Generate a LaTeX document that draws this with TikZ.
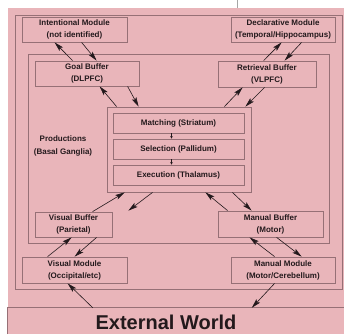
\documentclass[tikz,border=0pt]{standalone}
\usepackage{fontspec}
\setmainfont{Liberation Sans}
\usetikzlibrary{arrows.meta,calc}
\definecolor{pinkbg}{RGB}{233,181,186}
\definecolor{edgec}{RGB}{150,112,118}
\definecolor{ink}{RGB}{35,25,28}
\begin{document}
\begin{tikzpicture}[x=1pt,y=-1pt,
  frame/.style={draw=edgec, line width=0.8pt, inner sep=0pt},
  box/.style={draw=edgec, line width=0.8pt, fill=pinkbg, inner sep=0pt, align=center,
    font=\bfseries\fontsize{8}{12}\selectfont, text=ink},
  lbl/.style={inner sep=0pt, align=center, font=\bfseries\fontsize{8}{13}\selectfont, text=ink},
  arr/.style={draw=ink, line width=0.6pt, -{Stealth[length=9.5pt,width=5pt,inset=2pt]}},
  small/.style={draw=ink, line width=0.5pt, -{Stealth[length=2.5pt,width=2.5pt]}}]
\useasboundingbox (0,0) rectangle (344,334);
\fill[pinkbg] (8,8) rectangle (344,334);
\draw[black!35, line width=0.6pt] (237,0) -- (237,8);
% frames
\node[frame, minimum width=327pt, minimum height=274pt] (fa) at (178.5,152) {};
\node[frame, minimum width=301pt, minimum height=189pt] (fb) at (178.5,148.5) {};
% external world
\node[inner sep=0pt, minimum width=336pt, minimum height=26pt] (ext) at (176,321) {};
\draw[edgec, line width=0.8pt] (ext.south west) |- (ext.north east);
\node[inner sep=0pt, font=\bfseries\fontsize{20}{24}\selectfont, text=ink] (extl) at (166,322) {External World};
% modules and buffers
\node[box, minimum width=105pt, minimum height=25pt] (intent) at (74.5,29.5) {Intentional Module\\(not identified)};
\node[box, minimum width=104pt, minimum height=25pt] (decl) at (283,29.5) {Declarative Module\\(Temporal/Hippocampus)};
\node[box, minimum width=104pt, minimum height=25pt] (goal) at (87,73.5) {Goal Buffer\\(DLPFC)};
\node[box, minimum width=98pt, minimum height=26pt] (retr) at (267,74) {Retrieval Buffer\\(VLPFC)};
\node[box, minimum width=77pt, minimum height=25pt] (vbuf) at (73.5,224.5) {Visual Buffer\\(Parietal)};
\node[box, minimum width=105pt, minimum height=26pt] (mbuf) at (270.5,224) {Manual Buffer\\(Motor)};
\node[box, minimum width=105pt, minimum height=26pt] (vmod) at (74.5,270) {Visual Module\\(Occipital/etc)};
\node[box, minimum width=104pt, minimum height=26pt] (mmod) at (283,270) {Manual Module\\(Motor/Cerebellum)};
% productions
\node[lbl] (plab) at (63,146) {Productions\\(Basal Ganglia)};
\node[box, minimum width=144pt, minimum height=85pt] (prod) at (179,149.5) {};
\node[box, minimum width=131pt, minimum height=20pt] (match) at (178.5,123) {Matching (Striatum)};
\node[box, minimum width=131pt, minimum height=20pt] (select) at (178.5,149) {Selection (Pallidum)};
\node[box, minimum width=131pt, minimum height=20pt] (exec) at (178.5,175) {Execution (Thalamus)};
\draw[small] ($(match.south)+(-7,0)$) -- ($(select.north)+(-7,0)$);
\draw[small] ($(select.south)+(-7,0)$) -- ($(exec.north)+(-7,0)$);
% arrows top
\draw[arr] ($(goal.north west)+(38,0)$) -- ($(intent.south west)+(33,0)$);
\draw[arr] ($(intent.south west)+(60,0)$) -- ($(goal.north west)+(62,0)$);
\draw[arr] ($(retr.north west)+(46,0)$) -- ($(decl.south west)+(51,0)$);
\draw[arr] ($(decl.south west)+(71,0)$) -- ($(retr.north west)+(67,0)$);
\draw[arr] ($(prod.north west)+(10,0)$) -- ($(goal.south west)+(65,0)$);
\draw[arr] ($(goal.south west)+(93,0)$) -- ($(prod.north west)+(32,0)$);
\draw[arr] ($(prod.north east)+(-27,0)$) -- ($(retr.south west)+(25,0)$);
\draw[arr] ($(retr.south west)+(47,0)$) -- ($(prod.north east)+(-6,0)$);
% arrows bottom
\draw[arr] ($(vbuf.north west)+(58,0)$) -- ($(prod.south west)+(18,0)$);
\draw[arr] ($(prod.south west)+(46,0)$) -- ($(vbuf.north east)+(16,-1)$);
\draw[arr] ($(mbuf.north west)+(10,0)$) -- ($(prod.south east)+(-46,0)$);
\draw[arr] ($(prod.south east)+(-19,0)$) -- ($(mbuf.north west)+(34,0)$);
\draw[arr] ($(vmod.north west)+(26,0)$) -- ($(vbuf.south west)+(37,0)$);
\draw[arr] ($(vbuf.south west)+(62,0)$) -- ($(vmod.north west)+(53,0)$);
\draw[arr] ($(mmod.north west)+(44,0)$) -- ($(mbuf.south west)+(32,0)$);
\draw[arr] ($(mbuf.south west)+(59,0)$) -- ($(mmod.north west)+(71,0)$);
\draw[arr] ($(mmod.south west)+(44,0)$) -- ($(ext.north west)+(244,0)$);
\draw[arr] ($(ext.north west)+(85,0)$) -- ($(vmod.south west)+(46,0)$);
\end{tikzpicture}
\end{document}
